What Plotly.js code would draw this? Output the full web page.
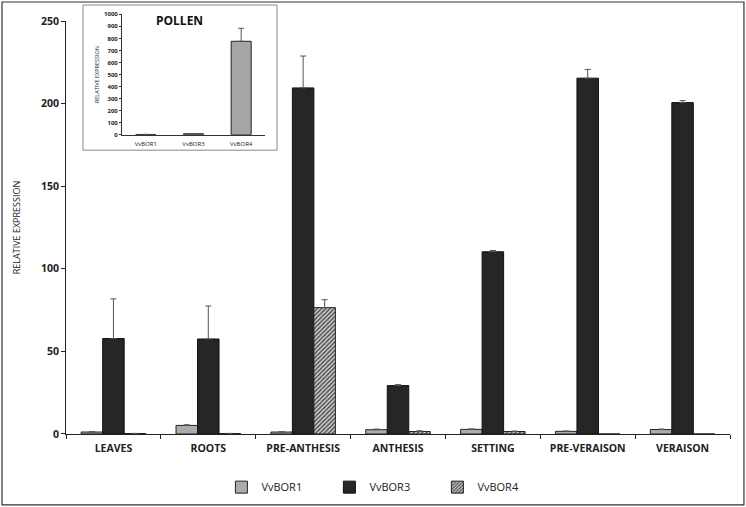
<!DOCTYPE html>
<html><head><meta charset="utf-8">
<script src="https://cdn.plot.ly/plotly-3.0.1.min.js"></script>
<style>html,body{margin:0;padding:0;background:#fff}</style>
</head><body><div id="c" style="width:746px;height:507px"></div>
<script>
var tissues = ['LEAVES','ROOTS','PRE-ANTHESIS','ANTHESIS','SETTING','PRE-VERAISON','VERAISON'];
var bor1 = [1.2, 5.2, 1.2, 2.6, 2.8, 1.6, 2.7];
var bor1Err = [0.2, 0.4, 0.2, 0.4, 0.3, 0.2, 0.3];
var bor3 = [57.8, 57.5, 209.5, 29.3, 110.3, 215.4, 200.6];
var bor3Err = [24, 20, 19.3, 0.6, 0.8, 5.3, 1.2];
var bor4 = [0.3, 0.3, 76.5, 1.5, 1.5, 0, 0];
var bor4Err = [0.1, 0.1, 4.8, 0.5, 0.3, 0, 0];
var pollenGenes = ['VvBOR1','VvBOR3','VvBOR4'];
var pollenVals = [2, 8, 776];
var pollenErr = [1, 2, 108];

var f = 'Open Sans, Liberation Sans, sans-serif';
function eb(a){return {type:'data',symmetric:false,array:a,arrayminus:a.map(function(){return 0;}),color:'#555',thickness:1,width:3};}
var traces = [
 {type:'bar',name:'VvBOR1',x:tissues,y:bor1,error_y:eb(bor1Err),marker:{color:'#acacac',line:{color:'#222',width:1}}},
 {type:'bar',name:'VvBOR3',x:tissues,y:bor3,error_y:eb(bor3Err),marker:{color:'#262626',line:{color:'#111',width:1}}},
 {type:'bar',name:'VvBOR4',x:tissues,y:bor4,error_y:eb(bor4Err),marker:{color:'#d0d0d0',line:{color:'#222',width:1},pattern:{shape:'/',fgcolor:'#444',bgcolor:'#d0d0d0',size:3,solidity:0.45}}},
 {type:'bar',name:'pollen',x:pollenGenes,y:pollenVals,xaxis:'x2',yaxis:'y2',showlegend:false,width:0.42,error_y:eb(pollenErr),marker:{color:'#a6a6a6',line:{color:'#222',width:1}}}
];
var layout = {
 width:746,height:507,margin:{l:66,r:16,t:2,b:73},
 paper_bgcolor:'#fff',plot_bgcolor:'rgba(0,0,0,0)',
 barmode:'group',bargap:0.32,bargroupgap:0,
 font:{family:f,color:'#222'},
 xaxis:{domain:[0,1],showline:true,linecolor:'#222',linewidth:1,ticks:'outside',tickson:'boundaries',ticklen:4,tickcolor:'#222',ticklabelstandoff:4,
   tickfont:{size:10.5,family:f,weight:'bold',color:'#222'},showgrid:false,zeroline:false,automargin:false},
 yaxis:{domain:[0,0.956],range:[0,250],tickvals:[0,50,100,150,200,250],showline:true,linecolor:'#222',linewidth:1,ticks:'outside',ticklen:4,tickcolor:'#222',
   tickfont:{size:10.5,family:f,weight:'bold',color:'#222'},showgrid:false,zeroline:false,
   title:{text:'RELATIVE EXPRESSION',font:{size:9,family:f,color:'#222'},standoff:18},automargin:false},
 xaxis2:{domain:[0.0843,0.2997],anchor:'y2',showline:true,linecolor:'#333',linewidth:1,ticks:'',ticklabelstandoff:3,tickfont:{size:6,family:f,color:'#222'},showgrid:false,zeroline:false,automargin:false},
 yaxis2:{domain:[0.6928,0.9715],anchor:'x2',range:[0,1000],dtick:100,showline:true,linecolor:'#333',linewidth:1,ticks:'outside',ticklen:2,tickcolor:'#333',
   tickfont:{size:6,family:f,weight:'bold',color:'#222'},showgrid:false,zeroline:false,
   title:{text:'RELATIVE EXPRESSION',font:{size:5.5,family:f,color:'#222'},standoff:4},automargin:false},
 legend:{orientation:'h',x:0.478,xanchor:'center',y:-0.123,yanchor:'middle',font:{size:11,family:f,color:'#222'},entrywidth:63,entrywidthmode:'pixels',itemwidth:30,traceorder:'normal'},
 shapes:[
  {type:'rect',xref:'paper',yref:'paper',x0:-0.0964,x1:1.021,y0:-0.164,y1:1.0,line:{color:'#333',width:1.2},fillcolor:'rgba(0,0,0,0)'},
  {type:'rect',xref:'paper',yref:'paper',x0:0.0256,x1:0.3178,y0:0.657,y1:0.993,line:{color:'#888',width:1},fillcolor:'rgba(0,0,0,0)'}
 ],
 annotations:[
  {text:'POLLEN',xref:'paper',yref:'paper',x:0.1716,y:0.958,xanchor:'center',yanchor:'middle',showarrow:false,font:{size:12,family:f,weight:'bold',color:'#111'}}
 ]
};
Plotly.newPlot('c',traces,layout,{displayModeBar:false,staticPlot:true});
</script></body></html>
